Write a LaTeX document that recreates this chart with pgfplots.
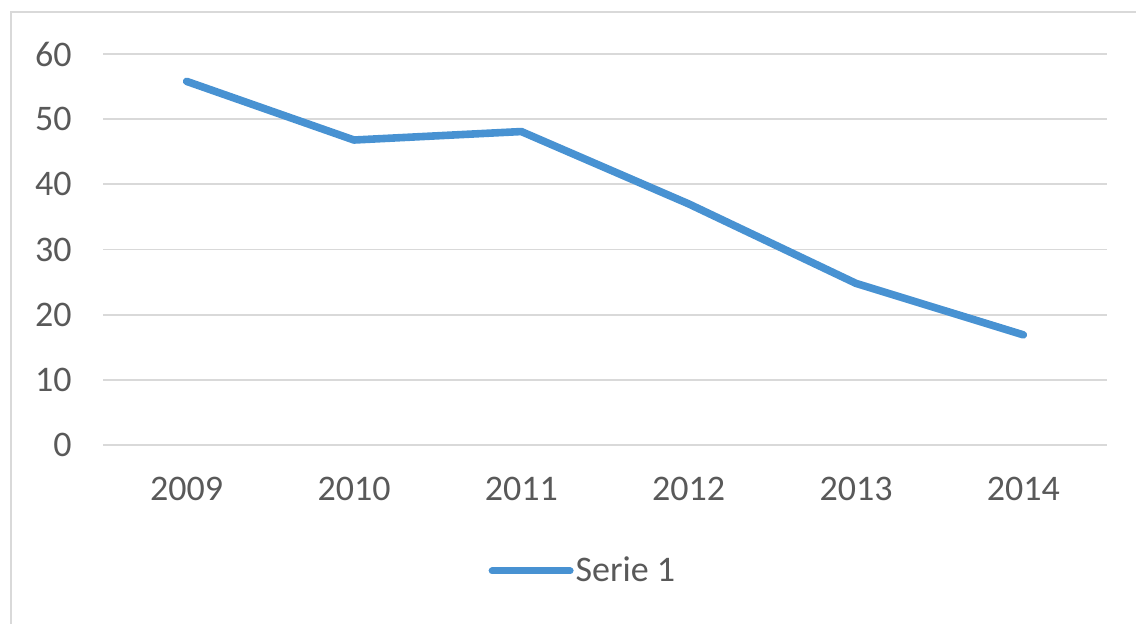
\documentclass[border=0pt]{standalone}
\usepackage{fontspec}
\setmainfont{Carlito}
\usepackage{pgfplots}
\pgfplotsset{compat=1.18}
\definecolor{serie}{RGB}{72,146,210}
\definecolor{gridc}{RGB}{217,217,217}
\definecolor{txt}{RGB}{89,89,89}
\begin{document}
\begin{tikzpicture}
\useasboundingbox (0,0) rectangle (568pt,312pt);
\draw[gridc, line width=1pt] (5.25pt,0pt) -- (5.25pt,306pt) -- (568pt,306pt);
\begin{axis}[
  at={(51.5pt,89.5pt)}, anchor=south west,
  scale only axis, width=502pt, height=195.5pt,
  xmin=-0.5, xmax=5.5, ymin=0, ymax=60,
  xtick={0,1,2,3,4,5},
  xticklabels={2009,2010,2011,2012,2013,2014},
  ytick={0,10,20,30,40,50,60},
  ymajorgrids, grid style={gridc, line width=0.9pt},
  axis line style={draw=none},
  major tick style={draw=none},
  /pgf/number format/assume math mode=true,
  tick label style={font=\fontsize{18}{20}\selectfont, text=txt},
  yticklabel style={anchor=east, inner sep=0pt, xshift=-15.5pt},
  xticklabel style={anchor=north, inner sep=0pt, yshift=-16pt},
  clip=false,
  legend style={at={(0.478,-0.322)}, anchor=center, draw=none, fill=none,
    font=\fontsize{18}{20}\selectfont, text=txt, inner sep=0pt,
    nodes={inner sep=1pt}},
  legend image code/.code={\draw[serie, line width=3.5pt, line cap=round] (0pt,0pt) -- (39pt,0pt);},
]
\addplot[serie, line width=3.8pt, line cap=round, line join=round] coordinates {
 (0,55.8) (1,46.8) (2,48.1) (3,37.0) (4,24.8) (5,16.9)
};
\addlegendentry{Serie 1}
\end{axis}
\end{tikzpicture}
\end{document}
